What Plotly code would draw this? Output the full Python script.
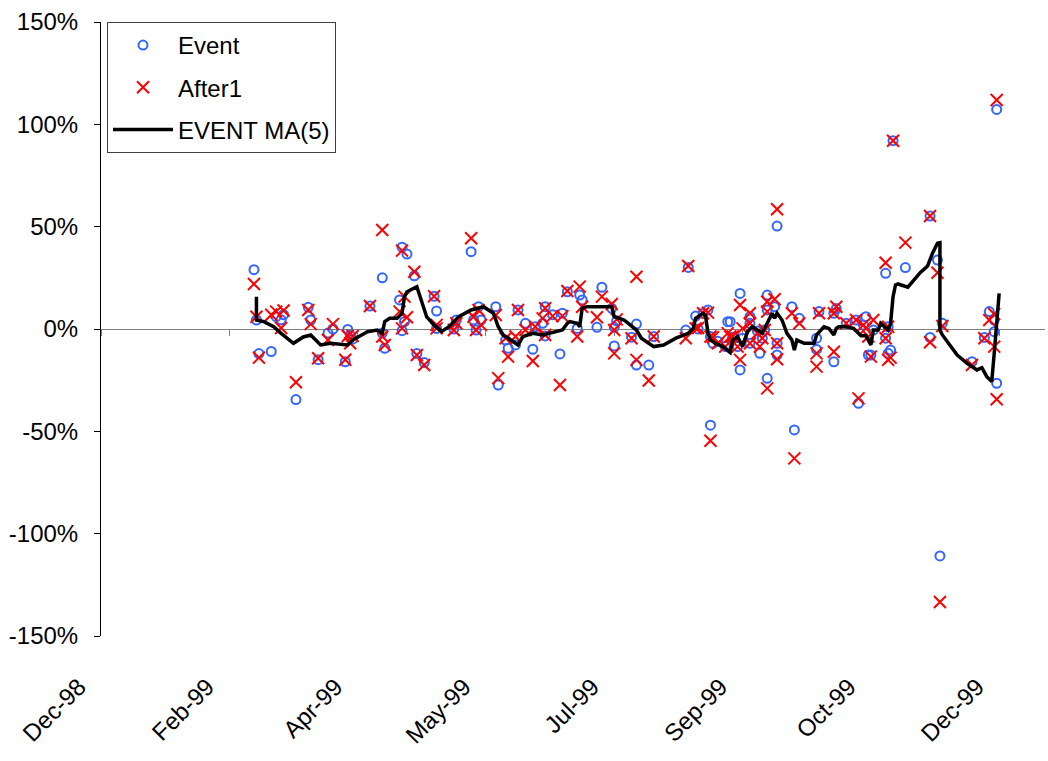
import plotly.graph_objects as go

# ---- data ----
event_dates = [
    "1999-02-21", "1999-02-22", "1999-02-23", "1999-02-28", "1999-03-02", "1999-03-04", "1999-03-05",
    "1999-03-10", "1999-03-15", "1999-03-16", "1999-03-19", "1999-03-23", "1999-03-25", "1999-03-30",
    "1999-03-31", "1999-04-01", "1999-04-02", "1999-04-09", "1999-04-14", "1999-04-14", "1999-04-15",
    "1999-04-21", "1999-04-22", "1999-04-22", "1999-04-23", "1999-04-24", "1999-04-27", "1999-04-28",
    "1999-05-01", "1999-05-05", "1999-05-06", "1999-05-06", "1999-05-13", "1999-05-14", "1999-05-20",
    "1999-05-21", "1999-05-22", "1999-05-23", "1999-05-24", "1999-05-30", "1999-05-31", "1999-06-03",
    "1999-06-04", "1999-06-07", "1999-06-08", "1999-06-11", "1999-06-14", "1999-06-15", "1999-06-18",
    "1999-06-19", "1999-06-19", "1999-06-22", "1999-06-25", "1999-06-26", "1999-06-28", "1999-07-02",
    "1999-07-03", "1999-07-04", "1999-07-10", "1999-07-12", "1999-07-16", "1999-07-17", "1999-07-17",
    "1999-07-18", "1999-07-24", "1999-07-26", "1999-07-26", "1999-07-31", "1999-08-02", "1999-08-15",
    "1999-08-16", "1999-08-19", "1999-08-20", "1999-08-22", "1999-08-24", "1999-08-25", "1999-08-25",
    "1999-08-26", "1999-08-28", "1999-08-31", "1999-09-01", "1999-09-02", "1999-09-03", "1999-09-05",
    "1999-09-06", "1999-09-06", "1999-09-07", "1999-09-10", "1999-09-10", "1999-09-10", "1999-09-13",
    "1999-09-14", "1999-09-15", "1999-09-16", "1999-09-17", "1999-09-17", "1999-09-17", "1999-09-20",
    "1999-09-21", "1999-09-21", "1999-09-21", "1999-09-27", "1999-09-28", "1999-09-30", "1999-10-07",
    "1999-10-07", "1999-10-08", "1999-10-14", "1999-10-14", "1999-10-15", "1999-10-19", "1999-10-23",
    "1999-10-24", "1999-10-26", "1999-10-27", "1999-10-28", "1999-10-29", "1999-10-30", "1999-11-04",
    "1999-11-04", "1999-11-05", "1999-11-05", "1999-11-06", "1999-11-07", "1999-11-12", "1999-11-22",
    "1999-11-22", "1999-11-25", "1999-11-26", "1999-11-27", "1999-12-09", "1999-12-14", "1999-12-16",
    "1999-12-18", "1999-12-18", "1999-12-19", "1999-12-19",
]
event_pct = [
    29, 4.4, -12, -11, 6, 4.5, 7,
    -34.5, 10.6, 4.4, -15, -2, 0, -16,
    -0.2, -3, -5, 11.2, 25, -2, -9.4,
    14.2, 40, -0.8, 3.6, 36.6, 26, -12,
    -16.4, 16, 8.8, 0.3, 0, 4.4, 37.8,
    4.4, -0.5, 10.9, 4.4, 10.9, -27.4, -5.4,
    -9.4, -7.8, 9.3, 2.8, -9.9, 1.1, 2.8,
    10.9, -3.4, 7, -12.2, 7.7, 18.2, 0.3,
    16.6, 14.2, 0.8, 20.4, 10.1, 0.8, -8.3,
    4, -4, 2.4, -17.6, -17.6, -3.7, -0.5,
    30.1, 6.3, 0, 7.7, 9.3, -47, -3.7,
    -7, -6, -8.6, 3.6, 3.6, -4, -8.6,
    17.4, -20, -4.5, 6, -7, 2.8, -1,
    -11.9, -4.5, -0.5, 16.6, -24.1, 9.3, 10.9,
    50.3, -7, -12.7, 10.9, -49.3, 5.2, -4.5,
    -10, 8.5, 7.7, -16, 10, 2.8, 4.4,
    -36.3, 2, 6, -12.7, -12.7, -0.5, 27.2,
    -4.5, 1.1, -11.9, -10.3, 92, 30, -4.1,
    55.2, 33.7, -110.9, 2.8, -16, -4.1, 8.5,
    4.4, -1.3, -26.5, 107.3,
]
after1_pct = [
    22, 6, -14, 7, 8.5, 0.5, 9,
    -26, 9.3, 2.4, -14.3, -5.4, 2.4, -15,
    -3.4, -7, -3.4, 11.2, 48.4, -3.7, -7.8,
    8.5, 38.3, 0.3, 15.8, 5.7, 28, -12.7,
    -17.6, 16, 2, 0.3, -0.5, 2.8, 44.3,
    6, -0.5, 9.3, 2, 6.8, -24, -4.5,
    -13.5, -3.7, 9.3, -0.5, -15.6, 1.1, 5.2,
    10.1, -2.9, 6.3, -27.4, 6.3, 18.6, -3.7,
    20.7, 10.9, 5.7, 15.8, 12.2, -0.5, -11.9,
    4.7, -4.5, 25.5, -15.1, -25.2, -3.7, -4.5,
    30.8, 0.3, 0.5, 7.7, 8, -54.6, -3.7,
    -4, -7, -8.6, -2, -3.7, -3.7, -8.6,
    11.7, -15.1, 0.3, 7.7, -7, 2.8, -2.1,
    -8.6, -4.5, -0.5, 13.3, -29, 8.5, 14.5,
    58.5, -7, -14.8, 7.7, -63.2, 2.8, -11.9,
    -18.4, 7.7, 7.7, -11.1, 10.9, 2.8, 4.4,
    -33.9, 2, 0.3, -3.7, -13.5, 4.4, 32.4,
    -4.5, 1.1, -15.1, -14, 92, 42.2, -6.5,
    55.2, 27.5, -133.4, 1.5, -17.6, -4.5, 4.4,
    7.3, -8.6, -34.3, 111.9,
]
ma_dates = [
    "1999-02-22", "1999-02-22", "1999-02-25", "1999-03-01", "1999-03-04", "1999-03-09", "1999-03-13",
    "1999-03-16", "1999-03-20", "1999-03-24", "1999-03-31", "1999-04-02", "1999-04-08", "1999-04-12",
    "1999-04-14", "1999-04-15", "1999-04-17", "1999-04-20", "1999-04-22", "1999-04-23", "1999-04-24",
    "1999-04-28", "1999-04-30", "1999-05-02", "1999-05-05", "1999-05-08", "1999-05-11", "1999-05-15",
    "1999-05-20", "1999-05-25", "1999-05-29", "1999-05-31", "1999-06-02", "1999-06-08", "1999-06-10",
    "1999-06-14", "1999-06-18", "1999-06-24", "1999-06-26", "1999-06-28", "1999-06-29", "1999-07-02",
    "1999-07-03", "1999-07-04", "1999-07-06", "1999-07-16", "1999-07-17", "1999-07-21", "1999-07-26",
    "1999-07-28", "1999-08-02", "1999-08-06", "1999-08-11", "1999-08-16", "1999-08-18", "1999-08-19",
    "1999-08-22", "1999-08-23", "1999-08-24", "1999-08-25", "1999-08-27", "1999-08-30", "1999-09-02",
    "1999-09-03", "1999-09-05", "1999-09-07", "1999-09-09", "1999-09-11", "1999-09-15", "1999-09-17",
    "1999-09-19", "1999-09-20", "1999-09-21", "1999-09-23", "1999-09-25", "1999-09-27", "1999-09-28",
    "1999-09-29", "1999-10-02", "1999-10-06", "1999-10-07", "1999-10-10", "1999-10-12", "1999-10-14",
    "1999-10-15", "1999-10-16", "1999-10-19", "1999-10-22", "1999-10-25", "1999-10-27", "1999-10-29",
    "1999-10-30", "1999-11-01", "1999-11-02", "1999-11-05", "1999-11-06", "1999-11-07", "1999-11-08",
    "1999-11-09", "1999-11-13", "1999-11-18", "1999-11-21", "1999-11-23", "1999-11-25", "1999-11-26",
    "1999-11-26", "1999-11-27", "1999-12-03", "1999-12-07", "1999-12-11", "1999-12-13", "1999-12-15",
    "1999-12-17", "1999-12-18", "1999-12-19", "1999-12-20",
]
ma_pct = [
    15.8, 4.4, 3.6, 1.1, -2.1, -7, -3.9,
    -2.9, -7.8, -7, -7.8, -5.4, -1.3, -0.5,
    -2.1, 3.6, 5.2, 5.2, 7.7, 15.8, 18.2,
    20.7, 13.3, 5.9, 2, -1.3, 1.1, 6,
    9.3, 10.9, 7.7, 1.1, -2.9, -7.8, -3.7,
    -2.1, -2.9, -1.3, -0.5, 2.8, 3.6, 2.8,
    1.1, 10.1, 10.9, 10.9, 6, 4.4, -0.5,
    -4.5, -8.6, -7.8, -4.5, -2.1, 0.3, 5.2,
    7.7, 6.5, -2, -5.4, -7, -8.6, -11.5,
    -5.4, -3.7, -8.6, -1.3, 1.1, -2.1, 2.8,
    7.7, 5.2, 7.7, 4.4, -2.1, -5.4, -10.3,
    -5.4, -7, -7, -2.9, 1.1, 0.3, -2.9,
    0.3, 1.1, 1.1, 0.3, -3.3, -3.3, -7.8,
    -0.5, -0.5, 2.8, -0.5, 2.8, 15.8, 21.5,
    22, 20.4, 27.5, 30.8, 37, 41.9, 42.2,
    -0.5, -2.9, -12.7, -16.8, -20, -18.9, -23.3,
    -25.7, -11.9, 1.1, 17.4,
]

x_tick_dates = ["1998-12-21", "1999-02-11", "1999-04-04", "1999-05-26",
                "1999-07-17", "1999-09-07", "1999-10-29", "1999-12-20"]
x_tick_labels = ["Dec-98", "Feb-99", "Apr-99", "May-99", "Jul-99", "Sep-99", "Oct-99", "Dec-99"]
x_range = ["1998-12-21", "2000-01-07 14:00"]
y_ticks = [-150, -100, -50, 0, 50, 100, 150]
y_tick_labels = ["-150%", "-100%", "-50%", "0%", "50%", "100%", "150%"]

FONT = "Liberation Sans, Arial, sans-serif"

fig = go.Figure()
fig.add_trace(go.Scatter(
    x=event_dates, y=event_pct, mode="markers", name="Event",
    legendgroup="a",
    marker=dict(symbol="circle-open", size=9, color="#3366FF", line=dict(width=2, color="#3366FF")),
))
fig.add_trace(go.Scatter(
    x=event_dates, y=after1_pct, mode="markers", name="After1",
    legendgroup="b",
    marker=dict(symbol="x-thin-open", size=12, color="#FF0000", line=dict(width=2, color="#FF0000")),
))
fig.add_trace(go.Scatter(
    x=ma_dates, y=ma_pct, mode="lines", name="EVENT MA(5)",
    legendgroup="c",
    line=dict(color="black", width=3.5),
))
# helper trace so the zero-line axis (x2) is drawn
fig.add_trace(go.Scatter(
    x=[x_tick_dates[0]], y=[None], xaxis="x2", yaxis="y", mode="markers",
    showlegend=False, hoverinfo="skip",
))

fig.update_layout(
    width=1048, height=761,
    margin=dict(l=101, r=3, t=22, b=125),
    paper_bgcolor="white", plot_bgcolor="white",
    font=dict(family=FONT, size=24, color="black"),
    showlegend=True,
    legend=dict(
        x=6 / 944, y=1, xanchor="left", yanchor="top",
        bgcolor="white", bordercolor="#404040", borderwidth=1,
        font=dict(family=FONT, size=24, color="black"),
        traceorder="grouped", tracegroupgap=8, itemwidth=60,
    ),
    xaxis=dict(
        type="date", range=x_range,
        tickmode="array", tickvals=x_tick_dates, ticktext=x_tick_labels,
        tickangle=-45, showgrid=False, zeroline=False, showline=False,
        ticks="", ticklabelstandoff=31, ticklabelshift=-22,
        tickfont=dict(family=FONT, size=24, color="black"),
    ),
    xaxis2=dict(
        type="date", matches="x", overlaying="x", anchor="free", position=0.5,
        tickmode="array", tickvals=x_tick_dates,
        showticklabels=False, showgrid=False, zeroline=False,
        showline=True, linecolor="#808080", linewidth=1,
        ticks="outside", ticklen=6, tickcolor="#808080", tickwidth=1,
        layer="below traces",
    ),
    yaxis=dict(
        range=[-150, 150], tickmode="array", tickvals=y_ticks, ticktext=y_tick_labels,
        showgrid=False, zeroline=False, showline=True, linecolor="black", linewidth=1,
        ticks="outside", ticklen=6, tickcolor="black", ticklabelstandoff=11,
        tickfont=dict(family=FONT, size=24, color="black"),
    ),
)

fig.write_html("out.html")
